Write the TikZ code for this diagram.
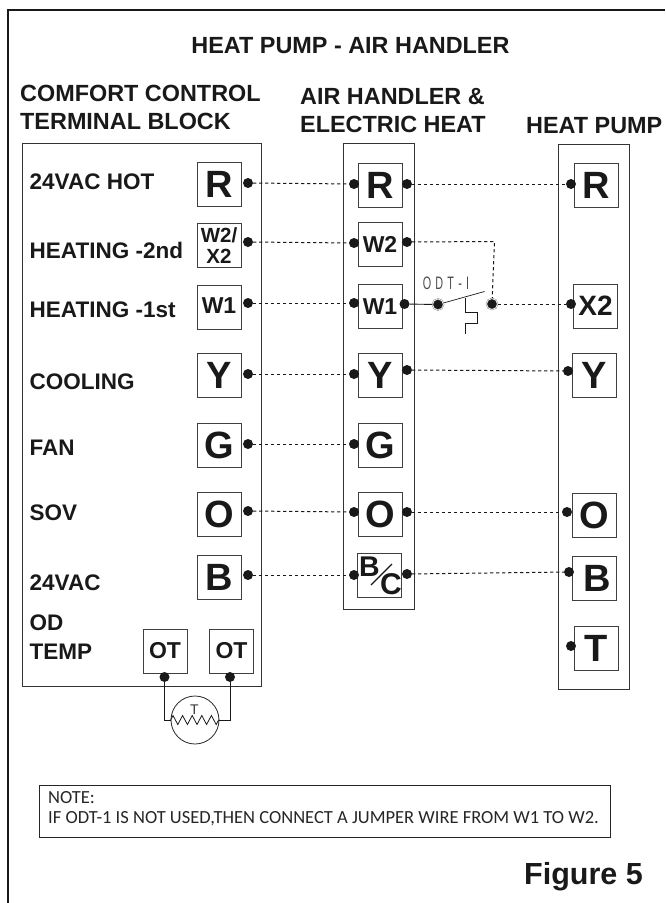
\documentclass[tikz,border=0pt]{standalone}
\usepackage{fontspec}
\setmainfont{Liberation Sans}
\newfontfamily\notefont{Carlito}
\usetikzlibrary{decorations.pathmorphing}

\tikzset{
	termbox/.style={draw=black!75,line width=0.9pt,minimum size=44pt,inner sep=0pt,font=\bfseries\fontsize{38}{38}\selectfont,text=black!90},
	smallterm/.style={termbox,font=\bfseries\fontsize{23}{23}\selectfont},
	blockbox/.style={draw=black!80,line width=1pt},
	termdot/.style={circle,fill=black!90,minimum size=10pt,inner sep=0pt},
	ringdot/.style={circle,fill=black!90,draw=black!55,double=white,double distance=0.6pt,line width=0.4pt,minimum size=11pt,inner sep=0pt},
	wire/.style={line width=1pt,black!90,dash pattern=on 3.2pt off 2.8pt},
	solidwire/.style={line width=0.9pt,black!90},
	headtext/.style={font=\bfseries\fontsize{23.4}{27.5}\selectfont,text=black!90,align=left,inner sep=0pt},
	rowtext/.style={font=\bfseries\fontsize{22.5}{29}\selectfont,text=black!90,anchor=west,inner sep=0pt}
}

\begin{document}
\begin{tikzpicture}[x=1pt,y=-1pt]
	\useasboundingbox (0,0) rectangle (665,903);
	\draw[line width=2.2pt,black!90] (665,10) -- (8,10) -- (8,903);

	% titles
	\node[headtext] (title) at (350.5,45.5) {HEAT PUMP - AIR HANDLER};
	\node[headtext,anchor=west] (headComfort) at (20,107.5) {COMFORT CONTROL\\TERMINAL BLOCK};
	\node[headtext,anchor=west] (headAir) at (300,110.5) {AIR HANDLER \&\\ELECTRIC HEAT};
	\node[headtext,anchor=west] (headPump) at (526,126) {HEAT PUMP};

	% blocks
	\node[blockbox,minimum width=239pt,minimum height=543pt] (blockLeft) at (141.5,414.5) {};
	\node[blockbox,minimum width=71pt,minimum height=466pt] (blockMid) at (378.5,376) {};
	\node[blockbox,minimum width=71pt,minimum height=545pt] (blockRight) at (593.5,416.5) {};

	% row labels
	\node[rowtext] (rowHot) at (29.5,182) {24VAC HOT};
	\node[rowtext] (rowSecond) at (29.5,250) {HEATING -2nd};
	\node[rowtext] (rowFirst) at (29.5,310) {HEATING -1st};
	\node[rowtext] (rowCool) at (29.5,382) {COOLING};
	\node[rowtext] (rowFan) at (29.5,448) {FAN};
	\node[rowtext] (rowSov) at (29.5,513) {SOV};
	\node[rowtext] (rowAc) at (29.5,583) {24VAC};
	\node[rowtext,align=left] (rowOd) at (29.5,637.5) {OD\\TEMP};

	% left terminals
	\node[termbox] (leftR) at (219,184.5) {R};
	\node[termbox,align=center,font=\bfseries\fontsize{20.5}{21}\selectfont] (leftW) at (219,245.5) {W2/\\X2};
	\node[smallterm] (leftF) at (219,307) {\raisebox{2pt}{W1}};
	\node[termbox] (leftY) at (219,375) {Y};
	\node[termbox] (leftG) at (219,445) {G};
	\node[termbox] (leftO) at (219,514) {O};
	\node[termbox] (leftB) at (219,577) {B};
	\node[smallterm] (otA) at (165,651) {OT};
	\node[smallterm] (otB) at (231.5,651) {OT};

	% middle terminals
	\node[termbox] (midR) at (380,185) {R};
	\node[smallterm] (midW) at (380,244) {W2};
	\node[smallterm] (midF) at (380,306.5) {W1};
	\node[termbox] (midY) at (380,375) {Y};
	\node[termbox] (midG) at (380,445) {G};
	\node[termbox] (midO) at (380,514) {O};
	\node[termbox] (midB) at (379.5,575) {};
	\node[font=\bfseries\fontsize{28.5}{28.5}\selectfont,inner sep=0pt,text=black!90] (midBb) at (369.5,567) {B};
	\node[font=\bfseries\fontsize{30}{30}\selectfont,inner sep=0pt,text=black!90] (midBc) at (391,584) {C};
	\draw[solidwire,line width=1.1pt] (371,585) -- (392,564);

	% right terminals
	\node[termbox] (rightR) at (596,185) {R};
	\node[termbox,font=\bfseries\fontsize{28}{28}\selectfont] (rightX) at (595.5,306) {X2};
	\node[termbox] (rightY) at (594.5,375) {Y};
	\node[termbox] (rightO) at (594.5,515) {O};
	\node[termbox] (rightB) at (594.5,578.5) {\hspace*{6pt}B};
	\node[termbox] (rightT) at (596,648) {T};

	% terminal dots
	\node[termdot] (dotLR) at (248,183) {};
	\node[termdot] (dotLW) at (248,242) {};
	\node[termdot] (dotLF) at (248,303) {};
	\node[termdot] (dotLY) at (248,374) {};
	\node[termdot] (dotLG) at (248,444) {};
	\node[termdot] (dotLO) at (248,511) {};
	\node[termdot] (dotLB) at (248,575) {};
	\node[termdot] (dotOtA) at (164.5,677) {};
	\node[termdot] (dotOtB) at (230,677) {};

	\node[termdot] (dotMR) at (354,184) {};
	\node[termdot] (dotMW) at (354,243) {};
	\node[termdot] (dotMF) at (354,303) {};
	\node[termdot] (dotMY) at (354,374) {};
	\node[termdot] (dotMG) at (354,444) {};
	\node[termdot] (dotMO) at (354,512) {};
	\node[termdot] (dotMB) at (354,575) {};

	\node[termdot] (dotNR) at (407,184) {};
	\node[termdot] (dotNW) at (407,242) {};
	\node[termdot] (dotNF) at (404.5,304) {};
	\node[termdot] (dotNY) at (407,370) {};
	\node[termdot] (dotNO) at (407,512) {};
	\node[termdot] (dotNB) at (407,574) {};

	\node[termdot] (dotRR) at (571,184) {};
	\node[termdot] (dotRX) at (571,304) {};
	\node[termdot] (dotRY) at (568,371) {};
	\node[termdot] (dotRO) at (567,512) {};
	\node[termdot] (dotRB) at (569,572) {};
	\node[termdot] (dotRT) at (571,646) {};

	% wires
	\draw[wire] (dotLR) -- (dotMR);
	\draw[wire] (dotLW) -- (dotMW);
	\draw[wire] (dotLF) -- (dotMF);
	\draw[wire] (dotLY) -- (dotMY);
	\draw[wire] (dotLG) -- (dotMG);
	\draw[wire] (dotLO) -- (dotMO);
	\draw[wire] (dotLB) -- (dotMB);
	\draw[wire] (dotNR) -- (dotRR);
	\draw[wire] (dotNY) -- (dotRY);
	\draw[wire] (dotNO) -- (dotRO);
	\draw[wire] (dotNB) -- (dotRB);

	% switch
	\node[ringdot] (swA) at (438,304.5) {};
	\node[ringdot] (swB) at (492,304) {};
	\coordinate (swEnd) at (484.5,291.5);
	\coordinate (wireCorner) at (494.5,241.5);
	\draw[wire] (dotNW) -- (wireCorner) -- (swB);
	\draw[wire] (swB) -- (dotRX);
	\draw[solidwire] (dotNF) -- (swA);
	\draw[solidwire,line width=0.7pt] (swA) -- (swEnd);
	\draw[solidwire,line width=0.7pt] (465,298) -- (465,312) -- (477,312) -- (477,323) -- (465,323) -- (465,334);
	\node[font=\fontsize{18}{18}\selectfont,text=black!70,inner sep=0pt,xscale=0.6] (odtLabel) at (446,283.5) {O\hspace{7pt}D\hspace{7pt}T\hspace{7pt}-\hspace{7pt}I};

	% outdoor sensor
	\node[draw=black!85,circle,line width=0.8pt,minimum size=48pt,inner sep=0pt] (sensor) at (195,720) {};
	\node[font=\fontsize{14}{14}\selectfont,text=black!80,inner sep=0pt] (sensorT) at (194.5,710) {T};
	\draw[solidwire] (dotOtA) |- (sensor.west);
	\draw[solidwire] (dotOtB) |- (sensor.east);
	\draw[solidwire,line width=0.8pt,decorate,decoration={zigzag,segment length=9.6pt,amplitude=4.5pt}] (sensor.west) -- (sensor.east);

	% note
	\node[draw=black!85,line width=0.8pt,minimum width=571pt,minimum height=52pt] (noteBox) at (324.5,811) {};
	\node[font=\notefont\fontsize{18.5}{20}\selectfont,align=left,anchor=north west,inner sep=0pt,text=black!85] (noteText) at (48,791.5) {NOTE:\\IF ODT-1 IS NOT USED,THEN CONNECT A JUMPER WIRE FROM W1 TO W2.};

	\node[font=\bfseries\fontsize{30.5}{30.5}\selectfont,text=black!90,inner sep=0pt,anchor=base] (figLabel) at (583.5,884) {Figure 5};
\end{tikzpicture}
\end{document}
